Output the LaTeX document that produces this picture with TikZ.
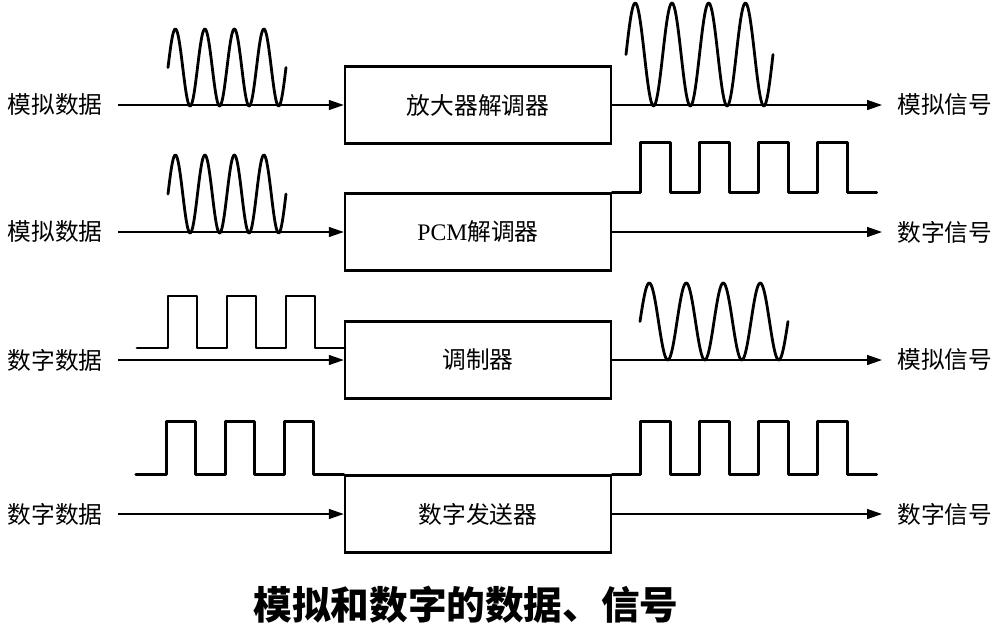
\documentclass[tikz,border=0pt]{standalone}
\usepackage{fontspec}
\setmainfont{Liberation Serif}
\newfontfamily\cjk{Noto Sans CJK SC}
\usetikzlibrary{arrows.meta}
\begin{document}
\begin{tikzpicture}[x=0.02cm,y=-0.02cm,
  box/.style={draw,line width=1.4pt,minimum width=5.32cm,minimum height=1.54cm,font=\fontsize{13.5}{16}\selectfont\cjk},
  lbl/.style={inner xsep=0.3cm,font=\fontsize{13.5}{16}\selectfont\cjk},
  sig/.style={line width=0.8pt,-{Triangle[length=0.3cm,width=0.2cm]}},
  wave/.style={line width=1.6pt,line join=round,line cap=round}]
\useasboundingbox (0,0) rectangle (1004,630);

\node[box] (mod1) at (478,105) {放大器解调器};
\node[box] (mod2) at (478,232) {{\rmfamily PCM}解调器};
\node[box] (mod3) at (478,360) {调制器};
\node[box] (mod4) at (478,514) {数字发送器};

\node[lbl,anchor=east] (lin1) at (118,105) {模拟数据};
\node[lbl,anchor=east] (lin2) at (118,232) {模拟数据};
\node[lbl,anchor=east] (lin3) at (118,360) {数字数据};
\node[lbl,anchor=east] (lin4) at (118,514) {数字数据};

\node[lbl,anchor=west] (lout1) at (882,105) {模拟信号};
\node[lbl,anchor=west] (lout2) at (882,232) {数字信号};
\node[lbl,anchor=west] (lout3) at (882,360) {模拟信号};
\node[lbl,anchor=west] (lout4) at (882,514) {数字信号};

\foreach \i in {1,...,4} {
  \draw[sig] (lin\i) -- (mod\i);
  \draw[sig] (mod\i) -- (lout\i);
}

\draw[wave] plot[domain=168:286,samples=160] (\x,{67.5-38.5*sin((\x-168)/29.5*360)});
\draw[wave] plot[domain=626:773,samples=160] (\x,{54.5-51.5*sin((\x-626)/36.75*360)});
\draw[wave] plot[domain=168:286,samples=160] (\x,{194-39*sin((\x-168)/29.5*360)});
\draw[wave] plot[domain=640:788,samples=160] (\x,{321.5-38.5*sin((\x-640)/37*360)});

\draw[wave] (mod2.north east) -- ++(28.5,0) \foreach \k in {1,...,4} {-- ++(0,-50) -- ++(30,0) -- ++(0,50) -- ++(29,0)};
\draw[wave] (137,348) -- (168,348) \foreach \k in {1,...,3} {-- ++(0,-52) -- ++(29,0) -- ++(0,52) -- ++(30,0)};
\draw[wave] (mod4.north west) ++(-208,0) -- ++(31,0) \foreach \k in {1,...,3} {-- ++(0,-52.5) -- ++(29,0) -- ++(0,52.5) -- ++(30,0)};
\draw[wave] (mod4.north east) -- ++(28.5,0) \foreach \k in {1,...,4} {-- ++(0,-52.5) -- ++(30,0) -- ++(0,52.5) -- ++(29,0)};

\node[font=\fontsize{22}{26}\selectfont\cjk\bfseries] (cap) at (466,605) {模拟和数字的数据、信号};
\end{tikzpicture}
\end{document}
